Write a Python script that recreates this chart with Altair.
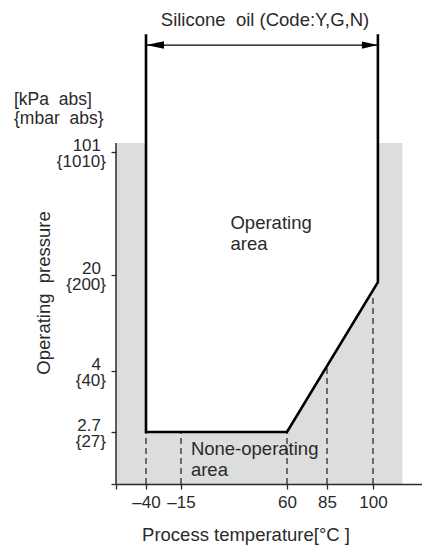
import altair as alt
import pandas as pd

# ---- schematic (piecewise) axis break points ----
x_breaks = [-60, -40, -15, 60, 85, 100, 120]
x_range = [0, 30, 65, 171, 211, 257, 306]
y_breaks = [0, 2.7, 4, 20, 101, 200]
y_range = [456, 404, 343, 247, 124, 0]

# ---- chart values ----
x_ticks = [-60, -40, -15, 60, 85, 100]
y_ticks = [0, 2.7, 4, 20, 101]
y_kpa = ["", "2.7", "4", "20", "101"]
y_mbar = ["", "{27}", "{40}", "{200}", "{1010}"]

boundary_t = [-40, -40, 60, 102, 102]
boundary_p = [195, 2.7, 2.7, 18.8, 195]

oper_t = [-40, 60, 102]
oper_p = [2.7, 2.7, 18.8]
gray_t = [-60, 112]
gray_p = [0, 108.2]

dash_t = [-40, -15, 60, 85, 100]
dash_top = [2.7, 2.7, 2.7, 4.6, 16.8]

arrow_t = [-40, 102]
arrow_p = 186.4

FONT = "Liberation Sans"
INK = "#2a2a2a"
GRAY = "#dcdddd"
SP = "\u00a0"

xs = alt.Scale(type="linear", domain=x_breaks, range=x_range, nice=False, zero=False)
ys = alt.Scale(type="linear", domain=y_breaks, range=y_range, nice=False, zero=False)

x_axis = alt.Axis(values=x_ticks, title="", grid=False, domainColor=INK, domainWidth=1.5,
                  tickColor=INK, tickWidth=1.3, tickSize=5, labelPadding=5, zindex=2,
                  labelFont=FONT, labelFontSize=17, labelColor=INK, labelFlush=False,
                  labelOverlap=False,
                  labelExpr="datum.value < -50 ? '' : (datum.value < 0 ? '\u2013' + (-datum.value) : '' + datum.value)")
y_axis = alt.Axis(values=y_ticks, title="", grid=False, domain=False, labels=False, zindex=2,
                  tickColor=INK, tickWidth=1.3, tickSize=5)

gray_df = pd.DataFrame({"t": [gray_t[0]], "t2": [gray_t[1]], "p": [gray_p[0]], "p2": [gray_p[1]]})
gray = alt.Chart(gray_df).mark_rect(color=GRAY).encode(
    x=alt.X("t:Q", scale=xs, axis=x_axis),
    x2="t2:Q",
    y=alt.Y("p:Q", scale=ys, axis=y_axis),
    y2="p2:Q",
)

oper_df = pd.DataFrame({"t": oper_t, "p": oper_p, "top": [gray_p[1]] * len(oper_t)})
oper = alt.Chart(oper_df).mark_area(color="white", opacity=1, interpolate="linear").encode(
    x=alt.X("t:Q", scale=xs, axis=x_axis),
    y=alt.Y("p:Q", scale=ys, axis=y_axis),
    y2="top:Q",
)

dash_df = pd.DataFrame({"t": dash_t, "top": dash_top, "bot": [0] * len(dash_t)})
dashes = alt.Chart(dash_df).mark_rule(color="#444444", strokeWidth=1.5, strokeDash=[6, 4]).encode(
    x=alt.X("t:Q", scale=xs, axis=x_axis),
    y=alt.Y("bot:Q", scale=ys, axis=y_axis),
    y2="top:Q",
)

yline_df = pd.DataFrame({"t": [gray_t[0]], "p": [gray_p[0]], "p2": [gray_p[1]]})
yline = alt.Chart(yline_df).mark_rule(color=INK, strokeWidth=1.5).encode(
    x=alt.X("t:Q", scale=xs, axis=x_axis),
    y=alt.Y("p:Q", scale=ys, axis=y_axis),
    y2="p2:Q",
)

bnd_df = pd.DataFrame({"t": boundary_t, "p": boundary_p, "i": list(range(len(boundary_t)))})
boundary = alt.Chart(bnd_df).mark_line(color="#000000", strokeWidth=2.6, strokeJoin="miter").encode(
    x=alt.X("t:Q", scale=xs, axis=x_axis),
    y=alt.Y("p:Q", scale=ys, axis=y_axis),
    order="i:Q",
)

arrow_df = pd.DataFrame({"t": [arrow_t[0]], "t2": [arrow_t[1]], "p": [arrow_p]})
arrow = alt.Chart(arrow_df).mark_rule(color="#000000", strokeWidth=1.3).encode(
    x=alt.X("t:Q", scale=xs, axis=x_axis),
    x2="t2:Q",
    y=alt.Y("p:Q", scale=ys, axis=y_axis),
)
headL = alt.Chart(pd.DataFrame({"t": [arrow_t[0]], "p": [arrow_p]})).mark_point(
    shape="M0,0L2,-0.42L2,0.42Z", size=324, filled=True, color="#000000", opacity=1, strokeWidth=0
).encode(x=alt.X("t:Q", scale=xs, axis=x_axis), y=alt.Y("p:Q", scale=ys, axis=y_axis))
headR = alt.Chart(pd.DataFrame({"t": [arrow_t[1]], "p": [arrow_p]})).mark_point(
    shape="M0,0L-2,-0.45L-2,0.45Z", size=256, filled=True, color="#000000", opacity=1, strokeWidth=0
).encode(x=alt.X("t:Q", scale=xs, axis=x_axis), y=alt.Y("p:Q", scale=ys, axis=y_axis))

ylab_df = pd.DataFrame({"p": y_ticks, "kpa": y_kpa, "mbar": y_mbar})
ylab1 = alt.Chart(ylab_df).mark_text(font=FONT, fontSize=17, color=INK, align="right",
                                     baseline="alphabetic", dy=-1).encode(
    x=alt.value(-15), y=alt.Y("p:Q", scale=ys, axis=y_axis), text="kpa:N")
ylab2 = alt.Chart(ylab_df).mark_text(font=FONT, fontSize=17, color=INK, align="right",
                                     baseline="alphabetic", dy=15).encode(
    x=alt.value(-10), y=alt.Y("p:Q", scale=ys, axis=y_axis), text="mbar:N")

area_lbl = alt.Chart(pd.DataFrame({"t": [20, -8], "p": [50, 1.5],
                                   "txt": ["Operating\narea", "None-operating\narea"]})).mark_text(
    font=FONT, fontSize=18.5, color=INK, align="left", baseline="alphabetic", lineBreak="\n", lineHeight=21
).encode(x=alt.X("t:Q", scale=xs, axis=x_axis), y=alt.Y("p:Q", scale=ys, axis=y_axis), text="txt:N")

def free_text(txt, x, y, size=18.5, align="left", angle=0):
    return alt.Chart(pd.DataFrame({"txt": [txt]})).mark_text(
        font=FONT, fontSize=size, color=INK, align=align, baseline="alphabetic", angle=angle
    ).encode(x=alt.value(x), y=alt.value(y), text="txt:N")

title = free_text("Silicone " + SP + "oil (Code:Y,G,N)", 149, -2, align="center")
unit1 = free_text("[kPa " + SP + "abs]", -102, 77, size=17.5)
unit2 = free_text("{mbar " + SP + "abs}", -102, 96, size=17.5)
xtitle = free_text("Process temperature[°C ]", 130, 513, align="center")
ytitle = free_text("Operating " + SP + "pressure", -66, 265, align="center", angle=270)

chart = alt.layer(
    gray, oper, dashes, yline, boundary, arrow, headL, headR,
    ylab1, ylab2, area_lbl, title, unit1, unit2, xtitle, ytitle
).properties(
    width=306, height=456,
    autosize=alt.AutoSizeParams(type="none"),
    padding={"left": 108, "top": 20, "right": 0, "bottom": 62},
).configure_view(stroke=None)

chart.save("out.html", embed_options={"renderer": "svg", "actions": False})
